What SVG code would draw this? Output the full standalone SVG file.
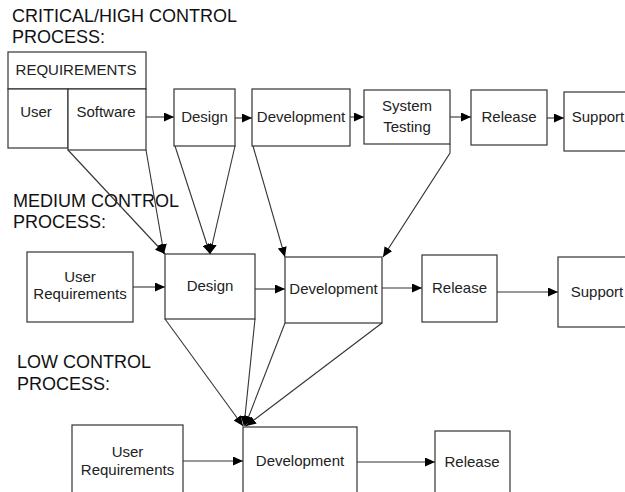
<svg xmlns="http://www.w3.org/2000/svg" width="625" height="492" viewBox="0 0 625 492">
<defs>
<marker id="ah" markerUnits="userSpaceOnUse" markerWidth="11" markerHeight="9" refX="10" refY="4.5" orient="auto" viewBox="0 0 11 9">
<path d="M0,0 L10,4.5 L0,9 z" fill="#000"/>
</marker>
</defs>
<style>
.box{fill:#fff;stroke:#333;stroke-width:1.2}
.t{font-family:"Liberation Sans",Arial,sans-serif;font-size:15px;fill:#222;text-anchor:middle}
.h{font-family:"Liberation Sans",Arial,sans-serif;font-size:18px;fill:#111}
.c{fill:none;stroke:#333;stroke-width:1.1;marker-end:url(#ah)}
.cl{fill:none;stroke:#444;stroke-width:1}
</style>
<rect width="625" height="492" fill="#fff"/>
<g id="headers">
<text class="h" x="12" y="22">CRITICAL/HIGH CONTROL</text>
<text class="h" x="12" y="43">PROCESS:</text>
<text class="h" x="13" y="207">MEDIUM CONTROL</text>
<text class="h" x="13" y="228">PROCESS:</text>
<text class="h" x="17" y="368">LOW CONTROL</text>
<text class="h" x="17" y="390">PROCESS:</text>
</g>
<g id="connectors">
<line class="c" x1="146" y1="117" x2="174" y2="117"/>
<line class="c" x1="235" y1="118" x2="252" y2="118"/>
<line class="c" x1="350" y1="117" x2="364" y2="117"/>
<line class="c" x1="450" y1="117" x2="471" y2="117"/>
<line class="c" x1="547" y1="118" x2="564" y2="118"/>
<line class="c" x1="68" y1="150" x2="165" y2="254"/>
<line class="c" x1="146" y1="150" x2="164" y2="254"/>
<line class="c" x1="175" y1="146" x2="210" y2="254"/>
<line class="c" x1="235" y1="146" x2="210" y2="254"/>
<line class="c" x1="253" y1="146" x2="285" y2="257"/>
<polyline class="c" points="450,144 450,153 383,257"/>
<line class="c" x1="133" y1="287" x2="165" y2="287"/>
<line class="c" x1="255" y1="289" x2="285" y2="289"/>
<line class="c" x1="382" y1="288" x2="422" y2="288"/>
<line class="c" x1="497" y1="292" x2="558" y2="292"/>
<line class="c" x1="165" y1="319" x2="243" y2="426"/>
<line class="c" x1="255" y1="319" x2="244" y2="426"/>
<line class="c" x1="285" y1="323" x2="245" y2="426"/>
<line class="c" x1="382" y1="323" x2="246" y2="426"/>
<line class="c" x1="183" y1="461" x2="243" y2="461"/>
<line class="c" x1="357" y1="462" x2="435" y2="462"/>
</g>
<g id="requirements">
<rect class="box" x="8" y="52" width="138" height="37"/>
<text class="t" x="76" y="75">REQUIREMENTS</text>
</g>
<g id="user-top">
<rect class="box" x="8" y="89" width="60" height="59"/>
<text class="t" x="36" y="117">User</text>
</g>
<g id="software-top">
<rect class="box" x="68" y="89" width="78" height="61"/>
<text class="t" x="106" y="117">Software</text>
</g>
<g id="design-top">
<rect class="box" x="174" y="89" width="61" height="57"/>
<text class="t" x="204.5" y="122">Design</text>
</g>
<g id="development-top">
<rect class="box" x="252" y="89" width="98" height="57"/>
<text class="t" x="301" y="122">Development</text>
</g>
<g id="systemtesting-top">
<rect class="box" x="364" y="90" width="86" height="54"/>
<text class="t" x="407" y="111">System</text>
<text class="t" x="407" y="132">Testing</text>
</g>
<g id="release-top">
<rect class="box" x="471" y="90" width="76" height="55"/>
<text class="t" x="509" y="122">Release</text>
</g>
<g id="support-top">
<rect class="box" x="564" y="92" width="70" height="59"/>
<text class="t" x="598" y="122">Support</text>
</g>
<g id="userreq-mid">
<rect class="box" x="27" y="252" width="106" height="70"/>
<text class="t" x="80" y="282">User</text>
<text class="t" x="80" y="299">Requirements</text>
</g>
<g id="design-mid">
<rect class="box" x="165" y="254" width="90" height="65"/>
<text class="t" x="210" y="291">Design</text>
</g>
<g id="development-mid">
<rect class="box" x="285" y="257" width="97" height="66"/>
<text class="t" x="333.5" y="294">Development</text>
</g>
<g id="release-mid">
<rect class="box" x="422" y="255" width="75" height="67"/>
<text class="t" x="459.5" y="293">Release</text>
</g>
<g id="support-mid">
<rect class="box" x="558" y="257" width="76" height="70"/>
<text class="t" x="597" y="297">Support</text>
</g>
<g id="userreq-low">
<rect class="box" x="72" y="425" width="111" height="80"/>
<text class="t" x="127.5" y="457">User</text>
<text class="t" x="127.5" y="475">Requirements</text>
</g>
<g id="development-low">
<rect class="box" x="243" y="427" width="114" height="80"/>
<text class="t" x="300" y="466">Development</text>
</g>
<g id="release-low">
<rect class="box" x="435" y="431" width="75" height="80"/>
<text class="t" x="472" y="467">Release</text>
</g>
</svg>
